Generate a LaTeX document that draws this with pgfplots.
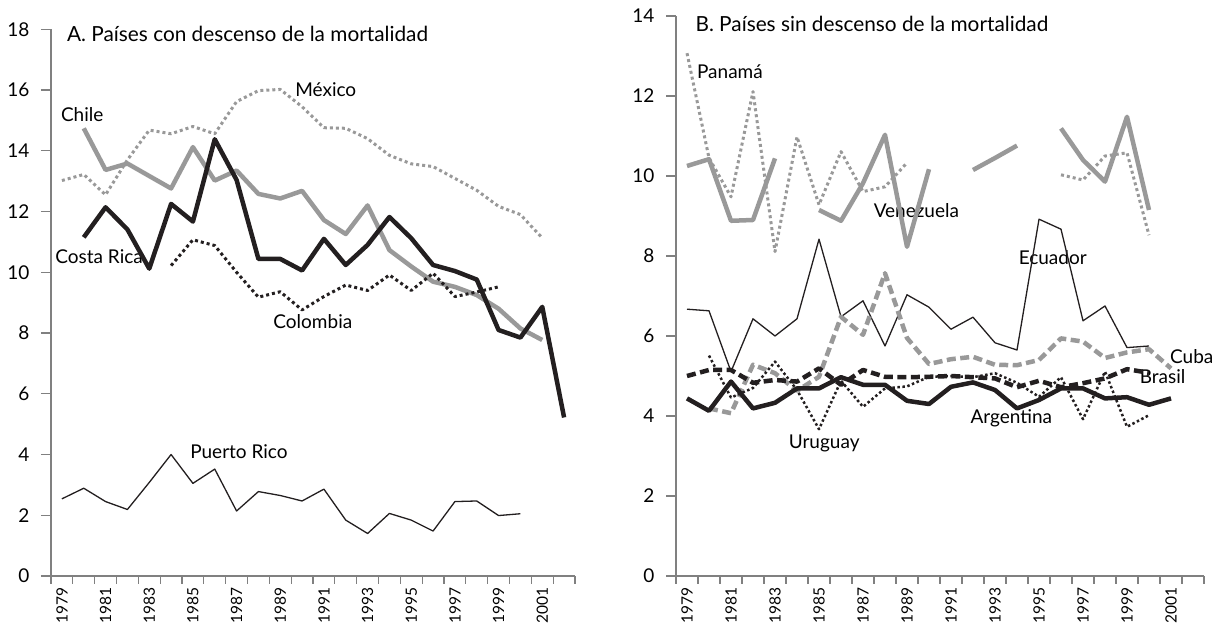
\documentclass[border=0pt]{standalone}
\usepackage{fontspec}
\setmainfont{Lato}
\usepackage{pgfplots}
\pgfplotsset{compat=1.18}
\usepackage{pgfplotstable}
\definecolor{ink}{RGB}{35,31,32}
\definecolor{lgray}{RGB}{153,153,153}
\definecolor{axgray}{RGB}{128,128,128}
\newcommand{\cf}{\fontsize{19}{22}\selectfont}
\newcommand{\tf}{\fontsize{20.8}{24}\selectfont}
\newcommand{\xf}{\fontsize{15.5}{18}\selectfont}

\pgfplotstableread{
year mex chi cri col pri
1979 13.02 nan nan nan 2.54
1980 13.22 14.74 11.15 nan 2.89
1981 12.55 13.37 12.14 nan 2.45
1982 13.70 13.58 11.41 nan 2.19
1983 14.68 13.17 10.12 nan 3.08
1984 14.56 12.76 12.25 10.22 4.00
1985 14.80 14.12 11.67 11.07 3.05
1986 14.56 13.02 14.38 10.88 3.52
1987 15.62 13.35 13.04 10.00 2.14
1988 15.98 12.58 10.44 9.18 2.78
1989 16.02 12.43 10.44 9.36 2.65
1990 15.45 12.68 10.06 8.76 2.47
1991 14.76 11.72 11.10 9.20 2.86
1992 14.74 11.26 10.24 9.58 1.84
1993 14.40 12.20 10.90 9.40 1.40
1994 13.85 10.73 11.82 9.91 2.06
1995 13.57 10.19 11.12 9.40 1.84
1996 13.48 9.69 10.24 9.97 1.48
1997 13.09 9.52 10.04 9.20 2.45
1998 12.70 9.25 9.76 9.35 2.47
1999 12.17 8.80 8.10 9.52 1.99
2000 11.90 8.15 7.85 nan 2.05
2001 11.13 7.77 8.86 nan nan
2002 nan nan 5.22 nan nan
}\tabA

\pgfplotstableread{
year pan ven ecu cub bra arg uru
1979 13.07 10.25 6.67 nan 5.00 4.44 nan
1980 10.45 10.42 6.63 4.19 5.15 4.13 5.51
1981 9.48 8.88 5.11 4.07 5.15 4.86 4.46
1982 12.11 8.90 6.43 5.28 4.83 4.19 4.70
1983 8.11 10.44 6.00 5.07 4.90 4.33 5.36
1984 10.98 nan 6.43 4.63 4.86 4.69 4.65
1985 9.28 9.15 8.42 4.98 5.19 4.69 3.67
1986 10.61 8.88 6.48 6.48 4.78 4.97 4.88
1987 9.61 9.82 6.88 6.03 5.15 4.78 4.23
1988 9.73 11.03 5.75 7.57 4.98 4.78 4.69
1989 10.33 8.23 7.03 5.95 4.97 4.38 4.74
1990 nan 10.17 6.72 5.30 4.98 4.30 4.98
1991 nan nan 6.17 5.42 5.00 4.73 5.00
1992 nan 10.15 6.47 5.48 4.97 4.84 4.97
1993 nan 10.45 5.83 5.28 4.94 4.65 5.07
1994 nan 10.76 5.65 5.27 4.72 4.19 4.83
1995 nan nan 8.92 5.40 4.88 4.40 4.48
1996 10.03 11.19 8.67 5.94 4.72 4.69 4.97
1997 9.90 10.40 6.38 5.86 4.82 4.69 3.92
1998 10.50 9.86 6.75 5.45 4.94 4.44 5.11
1999 10.58 11.48 5.71 5.59 5.17 4.47 3.73
2000 8.52 9.15 5.75 5.67 5.08 4.28 4.02
2001 nan nan nan 5.19 nan 4.44 nan
}\tabB

\tikzset{lab/.style={anchor=base west, font=\cf, inner sep=0pt, text=black},
  ttl/.style={anchor=base west, font=\tf, inner sep=0pt, text=black}}

\pgfplotsset{
  panel/.style={
    scale only axis,
    xmin=1978.5, xmax=2002.5, ymin=0,
    axis x line*=bottom, axis y line*=left,
    axis line style={draw=axgray, line width=1.2pt, -},
    tick align=outside,
    xtick={1979,1981,...,2001},
    minor xtick={1978.5,1979.5,...,2002.5},
    tick style={draw=axgray, line width=1.2pt},
    major x tick style={draw=none},
    major tick length=10pt,
    minor tick length=8pt,
    scaled x ticks=false, scaled y ticks=false,
    xticklabel style={rotate=90, anchor=east, font=\xf, text=black, inner sep=1.5pt,
      /pgf/number format/1000 sep={}, /pgf/number format/fixed},
    yticklabel style={font=\cf, text=black, xshift=-8pt},
    /pgf/number format/assume math mode=true,
    unbounded coords=jump,
    clip=false,
    every axis plot/.append style={line join=round},
  },
}

\begin{document}
\begin{tikzpicture}
\useasboundingbox (0,0) rectangle (1215pt,626pt);
\begin{axis}[panel, at={(51pt,50pt)}, anchor=south west,
  width=524pt, height=546.7pt, ymax=18, ytick={0,2,...,18}]
  \node[ttl] at (axis cs:1979.23,17.6) {A. Países con descenso de la mortalidad};
  \node[lab] at (axis cs:1989.68,15.8) {México};
  \node[lab] at (axis cs:1978.95,14.96) {Chile};
  \node[lab] at (axis cs:1978.69,10.3) {Costa Rica};
  \node[lab] at (axis cs:1988.68,8.16) {Colombia};
  \node[lab] at (axis cs:1984.87,3.87) {Puerto Rico};
  \addplot[draw=lgray, line width=3pt, dash pattern=on 3pt off 3pt] table[x=year,y=mex] {\tabA};
  \addplot[draw=lgray, line width=4.5pt] table[x=year,y=chi] {\tabA};
  \addplot[draw=ink, line width=3pt, dash pattern=on 3pt off 3pt] table[x=year,y=col] {\tabA};
  \addplot[draw=ink, line width=4.5pt] table[x=year,y=cri] {\tabA};
  \addplot[draw=ink, line width=1.3pt] table[x=year,y=pri] {\tabA};
\end{axis}
\begin{axis}[panel, at={(676pt,50pt)}, anchor=south west,
  width=528pt, height=560pt, ymax=14, ytick={0,2,...,14}]
  \node[ttl] at (axis cs:1979.38,13.62) {B. Países sin descenso de la mortalidad};
  \node[lab] at (axis cs:1979.45,12.44) {Panamá};
  \node[lab] at (axis cs:1987.48,8.97) {Venezuela};
  \node[lab] at (axis cs:1994.07,7.78) {Ecuador};
  \node[lab] at (axis cs:2000.95,5.32) {Cuba};
  \node[lab] at (axis cs:1999.57,4.82) {Brasil};
  \node[lab] at (axis cs:1991.88,3.82) {Argentina};
  \node[lab] at (axis cs:1983.62,3.19) {Uruguay};
  \addplot[draw=lgray, line width=3pt, dash pattern=on 3pt off 3pt] table[x=year,y=pan] {\tabB};
  \addplot[draw=lgray, line width=4.5pt] table[x=year,y=ven] {\tabB};
  \addplot[draw=ink, line width=1.3pt] table[x=year,y=ecu] {\tabB};
  \addplot[draw=lgray, line width=4.5pt, dash pattern=on 9pt off 4.5pt] table[x=year,y=cub] {\tabB};
  \addplot[draw=ink, line width=2.5pt, dash pattern=on 2.5pt off 2.5pt] table[x=year,y=uru] {\tabB};
  \addplot[draw=ink, line width=4.5pt, dash pattern=on 9pt off 4.5pt] table[x=year,y=bra] {\tabB};
  \addplot[draw=ink, line width=4.5pt] table[x=year,y=arg] {\tabB};
\end{axis}
\end{tikzpicture}
\end{document}
